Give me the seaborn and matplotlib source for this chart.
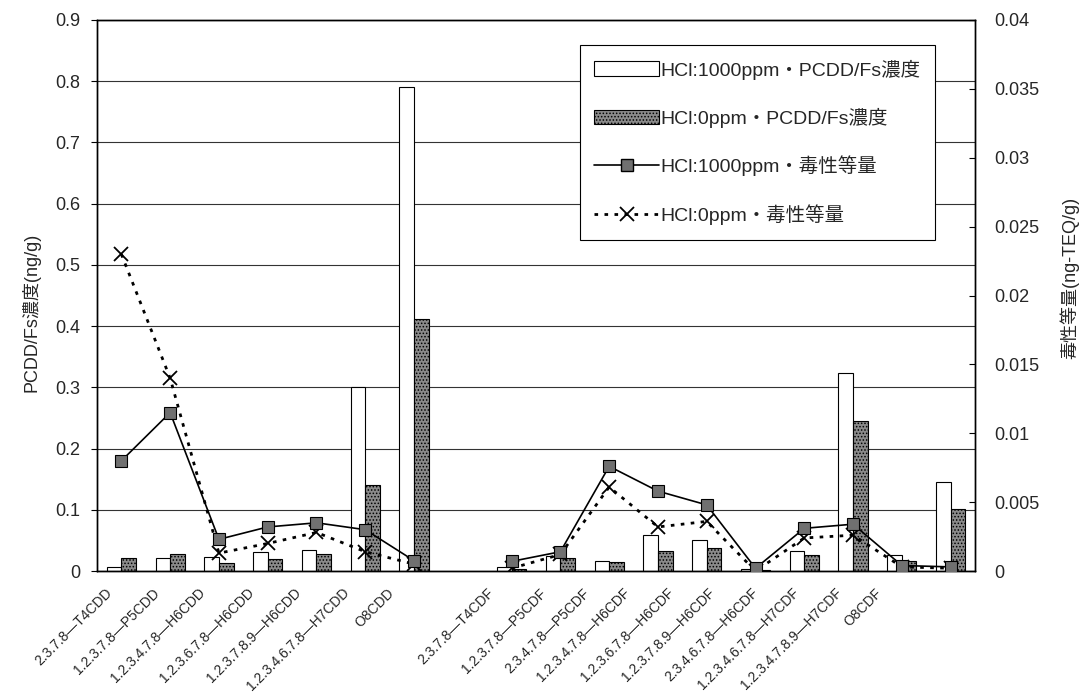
import numpy as np
import pandas as pd
import matplotlib
matplotlib.use("Agg")
import matplotlib.pyplot as plt
import matplotlib.transforms as mtransforms
from matplotlib.patches import Patch
from matplotlib.lines import Line2D
import seaborn as sns

# Congeners (a blank slot separates the dioxins from the furans)
congeners = [
    "2.3.7.8—T4CDD", "1.2.3.7.8—P5CDD", "1.2.3.4.7.8—H6CDD", "1.2.3.6.7.8—H6CDD",
    "1.2.3.7.8.9—H6CDD", "1.2.3.4.6.7.8—H7CDD", "O8CDD", " ",
    "2.3.7.8—T4CDF", "1.2.3.7.8—P5CDF", "2.3.4.7.8—P5CDF", "1.2.3.4.7.8—H6CDF",
    "1.2.3.6.7.8—H6CDF", "1.2.3.7.8.9—H6CDF", "2.3.4.6.7.8—H6CDF",
    "1.2.3.4.6.7.8—H7CDF", "1.2.3.4.7.8.9—H7CDF", "O8CDF",
]

# PCDD/Fs concentration (ng/g)
conc_hcl1000 = [0.007, 0.022, 0.023, 0.031, 0.035, 0.300, 0.790, np.nan,
                0.007, 0.024, 0.017, 0.059, 0.050, 0.004, 0.033, 0.324, 0.026, 0.145]
conc_hcl0 = [0.021, 0.027, 0.013, 0.020, 0.028, 0.140, 0.412, np.nan,
             0.004, 0.021, 0.014, 0.033, 0.037, 0.002, 0.026, 0.245, 0.017, 0.101]

# Toxic equivalent (ng-TEQ/g)
teq_hcl1000 = [0.0080, 0.0115, 0.0023, 0.0032, 0.0035, 0.0030, 0.00075, np.nan,
               0.0007, 0.0014, 0.0076, 0.0058, 0.0048, 0.0002, 0.0031, 0.0034, 0.0004, 0.0003]
teq_hcl0 = [0.0230, 0.0140, 0.0013, 0.0020, 0.0028, 0.0014, 0.0005, np.nan,
            0.0002, 0.0012, 0.0061, 0.0032, 0.0036, 0.0000, 0.0024, 0.0026, 0.0003, 0.0002]

series_names = ["HCl:1000ppm・PCDD/Fs濃度", "HCl:0ppm・PCDD/Fs濃度",
                "HCl:1000ppm・毒性等量", "HCl:0ppm・毒性等量"]

left_ticks = [0, 0.1, 0.2, 0.3, 0.4, 0.5, 0.6, 0.7, 0.8, 0.9]
left_labels = ["0", "0.1", "0.2", "0.3", "0.4", "0.5", "0.6", "0.7", "0.8", "0.9"]
right_ticks = [0, 0.005, 0.01, 0.015, 0.02, 0.025, 0.03, 0.035, 0.04]
right_labels = ["0", "0.005", "0.01", "0.015", "0.02", "0.025", "0.03", "0.035", "0.04"]

# horizontal nudge (pixels) of each rotated category label
label_shift_px = [-11, -13, -16, -16, -18, -18, -22, 0,
                  -20, -16, -22, -30, -35, -43, -48, -56, -62, -71]

DARK = "#8a8a8a"

sns.set_theme(style="white")
plt.rcParams["font.family"] = ["Liberation Sans", "Noto Sans CJK JP", "DejaVu Sans"]
plt.rcParams["hatch.linewidth"] = 0.7

df = pd.DataFrame({
    "congener": congeners * 2,
    "conc": conc_hcl1000 + conc_hcl0,
    "series": [series_names[0]] * len(congeners) + [series_names[1]] * len(congeners),
})

fig = plt.figure(figsize=(10.86, 6.94), dpi=100)
ax = fig.add_axes([0.0893, 0.1772, 0.8085, 0.7940])

sns.barplot(data=df, x="congener", y="conc", hue="series", order=congeners,
            hue_order=series_names[:2], palette=["white", DARK],
            width=0.6, errorbar=None, edgecolor="black", linewidth=0.8,
            legend=False, ax=ax, zorder=2)
for patch in ax.containers[1]:
    patch.set_hatch(".....")

ax.set_xlim(-0.5, len(congeners) - 0.5)
ax.set_ylim(0, 0.9)
ax.set_yticks(left_ticks)
ax.set_yticklabels(left_labels, fontsize=13)
ax.yaxis.grid(True, color="#333333", linewidth=0.8, zorder=0)
ax.set_axisbelow(True)
ax.tick_params(axis="y", direction="out", length=4, width=0.8, color="black", pad=8, left=True)
ax.tick_params(axis="x", length=0, pad=2)
ax.set_xlabel("")
ax.set_ylabel("PCDD/Fs濃度(ng/g)", fontsize=13)
ax.yaxis.set_label_coords(-0.064, 0.47)

for lbl, dx in zip(ax.get_xticklabels(), label_shift_px):
    lbl.set_rotation(45)
    lbl.set_ha("right")
    lbl.set_va("center")
    lbl.set_rotation_mode("anchor")
    lbl.set_fontsize(10)
    shift = mtransforms.ScaledTranslation(dx / 100, -17 / 100, fig.dpi_scale_trans)
    lbl.set_transform(lbl.get_transform() + shift)

for s in ax.spines.values():
    s.set_color("black")
    s.set_linewidth(1.0)

ax2 = ax.twinx()
xpos = np.arange(len(congeners))
ax2.plot(xpos, teq_hcl1000, color="black", linewidth=1.2, marker="s", markersize=9,
         markerfacecolor="#707070", markeredgecolor="black", markeredgewidth=0.8, zorder=4)
ax2.plot(xpos, teq_hcl0, color="black", linewidth=2.0, linestyle=(0, (1.3, 2.3)),
         marker="x", markersize=10, markeredgewidth=1.3, zorder=3)
ax2.set_ylim(0, 0.04)
ax2.set_yticks(right_ticks)
ax2.set_yticklabels(right_labels, fontsize=13)
ax2.tick_params(axis="y", direction="in", length=4, width=0.8, color="black", pad=14, right=True)
ax2.set_ylabel("毒性等量(ng-TEQ/g)", fontsize=13)
ax2.yaxis.set_label_coords(1.096, 0.532)
ax2.grid(False)
for s in ax2.spines.values():
    s.set_color("black")
    s.set_linewidth(1.0)

handles = [
    Patch(facecolor="white", edgecolor="black", linewidth=0.8),
    Patch(facecolor=DARK, edgecolor="black", linewidth=0.8, hatch="....."),
    Line2D([], [], color="black", linewidth=1.2, marker="s", markersize=9,
           markerfacecolor="#707070", markeredgecolor="black"),
    Line2D([], [], color="black", linewidth=2.0, linestyle=(0, (1.3, 2.3)),
           marker="x", markersize=10, markeredgewidth=1.3),
]
leg = ax2.legend(handles, series_names, loc="upper left",
                 bbox_to_anchor=(0.550, 0.9546), fontsize=14, frameon=True,
                 fancybox=False, edgecolor="black", framealpha=1.0,
                 handlelength=3.3, handleheight=0.8, handletextpad=0.1,
                 labelspacing=1.44, borderpad=0.75, borderaxespad=0)
leg.get_frame().set_linewidth(0.8)
leg.set_zorder(10)

fig.savefig("out.png", dpi=100)
